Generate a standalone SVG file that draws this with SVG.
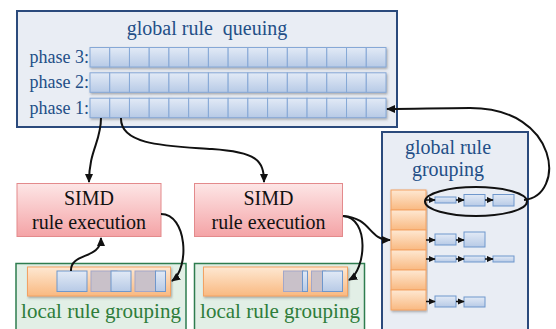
<svg xmlns="http://www.w3.org/2000/svg" xmlns:xlink="http://www.w3.org/1999/xlink" width="556" height="329" viewBox="0 0 556 329">
<style>
.serif{font-family:"Liberation Serif","DejaVu Serif",serif}
.navy{fill:#234f87}
.panel{fill:#e9edf4;stroke:#2b4a7c;stroke-width:2}
.cell{fill:url(#gBlue);stroke:#86a8d6;stroke-width:1}
.blk{fill:url(#gBlue);stroke:#6f97cc;stroke-width:1}
.gray{fill:#c9c1c9;stroke:#a3a7c9;stroke-width:1}
.simd{fill:url(#gPink);stroke:#e38a8c;stroke-width:1}
.green{fill:#e2efe6;stroke:#2e7d4f;stroke-width:1.5}
.orange{fill:url(#gOrange);stroke:#f3a263;stroke-width:1}
.conn{fill:none;stroke:#111;stroke-width:2}
.sconn{fill:none;stroke:#111;stroke-width:1.5}
</style>
<defs>
<linearGradient id="gBlue" x1="0" y1="0" x2="0" y2="1"><stop offset="0" stop-color="#e2eaf6"/><stop offset="1" stop-color="#b7cae6"/></linearGradient>
<linearGradient id="gPink" x1="0" y1="0" x2="0" y2="1"><stop offset="0" stop-color="#fde6e6"/><stop offset="1" stop-color="#f4a3a6"/></linearGradient>
<linearGradient id="gOrange" x1="0" y1="0" x2="0" y2="1"><stop offset="0" stop-color="#fee8d2"/><stop offset="1" stop-color="#f9b981"/></linearGradient>
<filter id="sh" x="-5%" y="-30%" width="110%" height="170%"><feDropShadow dx="1" dy="1.5" stdDeviation="1" flood-color="#555" flood-opacity="0.45"/></filter>
<marker id="ah" viewBox="0 0 10 10" refX="9" refY="5" markerWidth="9" markerHeight="9" markerUnits="userSpaceOnUse" orient="auto"><path d="M0,0.5 L10,5 L0,9.5 z" fill="#111"/></marker>
<marker id="as" viewBox="0 0 10 10" refX="9" refY="5" markerWidth="7" markerHeight="7" markerUnits="userSpaceOnUse" orient="auto"><path d="M0,0.5 L10,5 L0,9.5 z" fill="#111"/></marker>
<g id="row" filter="url(#sh)">
<rect class="cell" x="90" y="0" width="19.73" height="19.5"/>
<rect class="cell" x="109.73" y="0" width="19.73" height="19.5"/>
<rect class="cell" x="129.47" y="0" width="19.73" height="19.5"/>
<rect class="cell" x="149.2" y="0" width="19.73" height="19.5"/>
<rect class="cell" x="168.93" y="0" width="19.73" height="19.5"/>
<rect class="cell" x="188.67" y="0" width="19.73" height="19.5"/>
<rect class="cell" x="208.4" y="0" width="19.73" height="19.5"/>
<rect class="cell" x="228.13" y="0" width="19.73" height="19.5"/>
<rect class="cell" x="247.87" y="0" width="19.73" height="19.5"/>
<rect class="cell" x="267.6" y="0" width="19.73" height="19.5"/>
<rect class="cell" x="287.33" y="0" width="19.73" height="19.5"/>
<rect class="cell" x="307.07" y="0" width="19.73" height="19.5"/>
<rect class="cell" x="326.8" y="0" width="19.73" height="19.5"/>
<rect class="cell" x="346.53" y="0" width="19.73" height="19.5"/>
<rect class="cell" x="366.27" y="0" width="19.73" height="19.5"/>
</g>
</defs>
<rect width="556" height="329" fill="#ffffff"/>

<g id="global-queuing">
<rect class="panel" x="17" y="11" width="380" height="116"/>
<text class="serif navy" x="207" y="35" font-size="20" text-anchor="middle" xml:space="preserve">global rule  queuing</text>
<text class="serif navy" x="89" y="63" font-size="18" text-anchor="end">phase 3:</text>
<text class="serif navy" x="89" y="88" font-size="18" text-anchor="end">phase 2:</text>
<text class="serif navy" x="89" y="114" font-size="18" text-anchor="end">phase 1:</text>
<use xlink:href="#row" href="#row" y="47.5"/>
<use xlink:href="#row" href="#row" y="72.8"/>
<use xlink:href="#row" href="#row" y="98.2"/>
</g>

<g id="simd-1">
<rect class="simd" x="17" y="183.5" width="144" height="53"/>
<text class="serif" x="89" y="205" font-size="20" text-anchor="middle" fill="#111">SIMD</text>
<text class="serif" x="89" y="228.5" font-size="20" text-anchor="middle" fill="#111">rule execution</text>
</g>

<g id="simd-2">
<rect class="simd" x="194.5" y="183.5" width="148" height="53"/>
<text class="serif" x="268.5" y="205" font-size="20" text-anchor="middle" fill="#111">SIMD</text>
<text class="serif" x="268.5" y="228.5" font-size="20" text-anchor="middle" fill="#111">rule execution</text>
</g>

<g id="local-grouping-1">
<rect class="green" x="16" y="263.5" width="170" height="80"/>
<rect class="orange" x="27.5" y="267" width="143" height="29" filter="url(#sh)"/>
<rect class="blk" x="57" y="271" width="30" height="20.5"/>
<rect class="gray" x="91" y="271" width="26" height="20.5"/>
<rect class="blk" x="111" y="271" width="20" height="20.5"/>
<rect class="gray" x="135" y="271" width="21" height="20.5"/>
<rect class="blk" x="155.5" y="271" width="10" height="20.5"/>
<text class="serif" x="101" y="317.5" font-size="21" text-anchor="middle" fill="#2e7d3a">local rule grouping</text>
</g>

<g id="local-grouping-2">
<rect class="green" x="194.5" y="263.5" width="170" height="80"/>
<rect class="orange" x="203.5" y="267" width="144" height="29" filter="url(#sh)"/>
<rect class="gray" x="283.5" y="271" width="20" height="20.5"/>
<rect class="blk" x="302.5" y="271" width="5" height="20.5"/>
<rect class="gray" x="311.5" y="271" width="14" height="20.5"/>
<rect class="blk" x="322.5" y="271" width="20" height="20.5"/>
<text class="serif" x="280" y="317.5" font-size="21" text-anchor="middle" fill="#2e7d3a">local rule grouping</text>
</g>

<g id="global-grouping">
<rect class="panel" x="382" y="132" width="146" height="210"/>
<text class="serif navy" x="448" y="153.5" font-size="20" text-anchor="middle">global rule</text>
<text class="serif navy" x="448" y="176" font-size="20" text-anchor="middle">grouping</text>
<g filter="url(#sh)">
<rect class="orange" x="391" y="190" width="35" height="20"/>
<rect class="orange" x="391" y="210" width="35" height="20"/>
<rect class="orange" x="391" y="230" width="35" height="20"/>
<rect class="orange" x="391" y="250" width="35" height="20"/>
<rect class="orange" x="391" y="270" width="35" height="20"/>
<rect class="orange" x="391" y="290" width="35" height="20"/>
</g>
<rect class="blk" x="435" y="197" width="21" height="6"/>
<rect class="blk" x="464" y="194.5" width="21" height="11.5"/>
<rect class="blk" x="493" y="194.5" width="21" height="11.5"/>
<rect class="blk" x="435" y="234" width="21" height="11"/>
<rect class="blk" x="464" y="232" width="21" height="15"/>
<rect class="blk" x="435" y="256" width="21" height="6"/>
<rect class="blk" x="464" y="256" width="21" height="6"/>
<rect class="blk" x="493" y="256" width="21" height="6"/>
<rect class="blk" x="435" y="296" width="21" height="11"/>
<rect class="blk" x="464" y="297" width="21" height="10"/>
</g>

<g id="connectors">
<path class="sconn" d="M426,200 L435,200" marker-end="url(#as)"/>
<path class="sconn" d="M456,200 L464,200" marker-end="url(#as)"/>
<path class="sconn" d="M485,200 L493,200" marker-end="url(#as)"/>
<path class="sconn" d="M426,240 L435,240" marker-end="url(#as)"/>
<path class="sconn" d="M456,240 L464,240" marker-end="url(#as)"/>
<path class="sconn" d="M426,259 L435,259" marker-end="url(#as)"/>
<path class="sconn" d="M456,259 L464,259" marker-end="url(#as)"/>
<path class="sconn" d="M485,259 L493,259" marker-end="url(#as)"/>
<path class="sconn" d="M426,301.5 L435,301.5" marker-end="url(#as)"/>
<path class="sconn" d="M456,301.5 L464,301.5" marker-end="url(#as)"/>
<ellipse class="conn" cx="476" cy="201.5" rx="51" ry="14.5"/>
<path class="conn" d="M524,200 C566,196 560,108 470,108 C440,108 415,109 387,109" marker-end="url(#ah)"/>
<path class="conn" d="M101,118 C101,142 89,150 89,182" marker-end="url(#ah)"/>
<path class="conn" d="M121,118 C120,146 170,146 212,149 C256,152 264,160 264,182" marker-end="url(#ah)"/>
<path class="conn" d="M161,214 C187,214 190,268 172,281" marker-end="url(#ah)"/>
<path class="conn" d="M343,216 C370,218 366,270 349,280" marker-end="url(#ah)"/>
<path class="conn" d="M343,216 C372,218 368,240 390,240" marker-end="url(#ah)"/>
<path class="conn" d="M71,271 C70,252 101,260 101,238" marker-end="url(#ah)"/>
</g>
</svg>
